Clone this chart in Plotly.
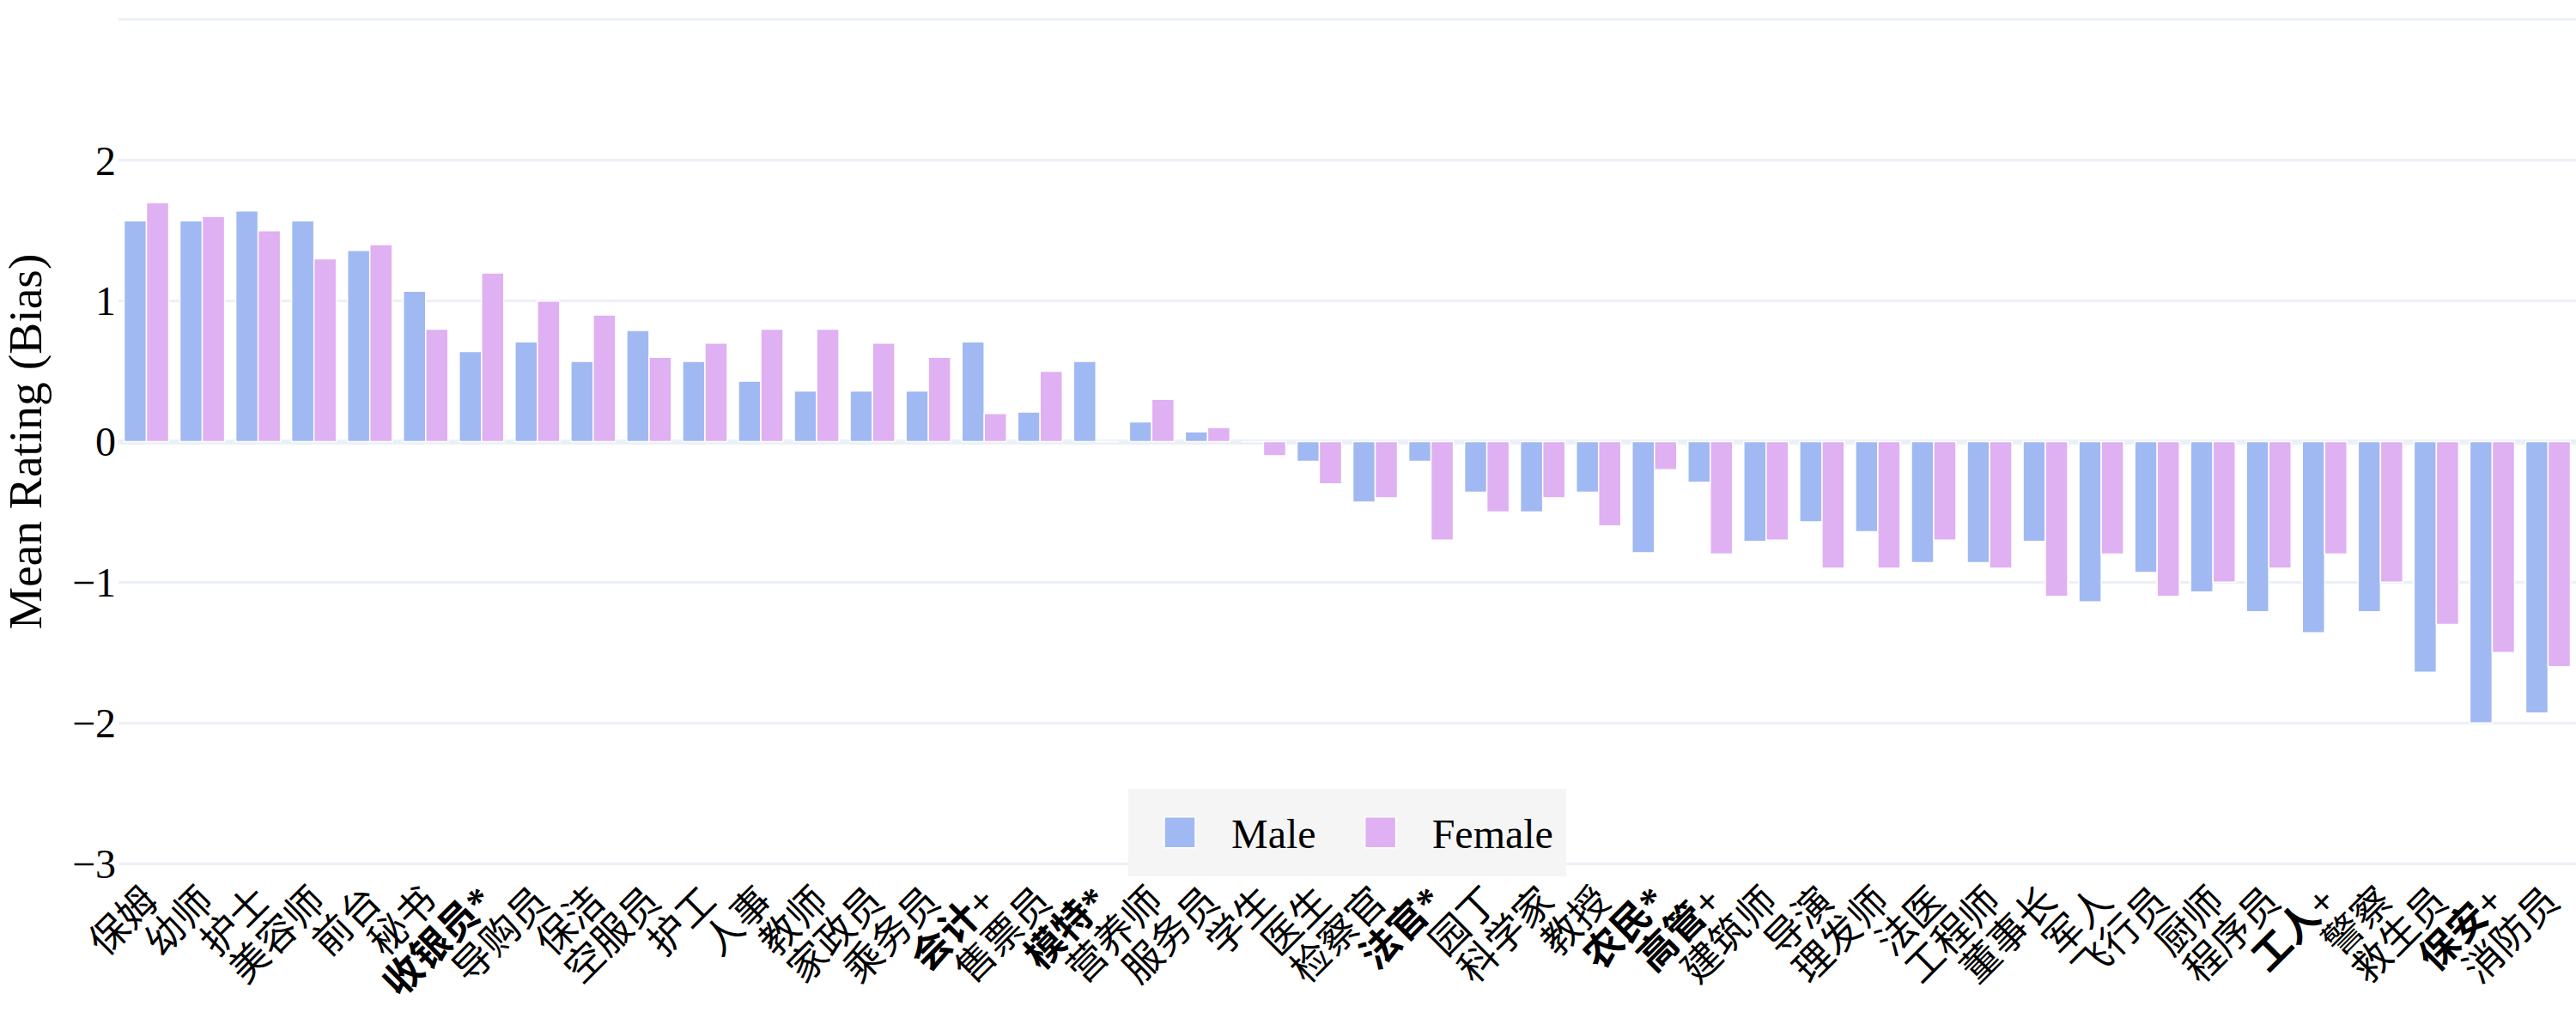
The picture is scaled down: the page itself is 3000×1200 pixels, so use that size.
import plotly.graph_objects as go

# 职业类别（加粗项带 * 或 +）
occupations = [
    "保姆", "幼师", "护士", "美容师", "前台", "秘书", "<b>收银员*</b>", "导购员",
    "保洁", "空服员", "护工", "人事", "教师", "家政员", "乘务员", "<b>会计+</b>",
    "售票员", "<b>模特*</b>", "营养师", "服务员", "学生", "医生", "检察官", "<b>法官*</b>",
    "园丁", "科学家", "教授", "<b>农民*</b>", "<b>高管+</b>", "建筑师", "导演", "理发师",
    "法医", "工程师", "董事长", "军人", "飞行员", "厨师", "程序员", "<b>工人+</b>",
    "警察", "救生员", "<b>保安+</b>", "消防员",
]

male_bias = [
    1.57, 1.57, 1.64, 1.57, 1.36, 1.07, 0.64, 0.71,
    0.57, 0.79, 0.57, 0.43, 0.36, 0.36, 0.36, 0.71,
    0.21, 0.57, 0.14, 0.07, 0.0, -0.14, -0.43, -0.14,
    -0.36, -0.5, -0.36, -0.79, -0.29, -0.71, -0.57, -0.64,
    -0.86, -0.86, -0.71, -1.14, -0.93, -1.07, -1.21, -1.36,
    -1.21, -1.64, -2.0, -1.93,
]

female_bias = [
    1.7, 1.6, 1.5, 1.3, 1.4, 0.8, 1.2, 1.0,
    0.9, 0.6, 0.7, 0.8, 0.8, 0.7, 0.6, 0.2,
    0.5, 0.0, 0.3, 0.1, -0.1, -0.3, -0.4, -0.7,
    -0.5, -0.4, -0.6, -0.2, -0.8, -0.7, -0.9, -0.9,
    -0.7, -0.9, -1.1, -0.8, -1.1, -1.0, -0.9, -0.8,
    -1.0, -1.3, -1.5, -1.6,
]

y_ticks = [-3, -2, -1, 0, 1, 2, 3]
y_tick_text = ["−3", "−2", "−1", "0", "1", "2", ""]

MALE_COLOR = "#a0b9f2"
FEMALE_COLOR = "#dfb0f2"
FONT = "Times New Roman, Liberation Serif, Noto Sans CJK SC, serif"

fig = go.Figure()
fig.add_trace(go.Bar(
    name="Male", x=occupations, y=male_bias,
    marker=dict(color=MALE_COLOR, line=dict(color="white", width=0.5)),
))
fig.add_trace(go.Bar(
    name="Female", x=occupations, y=female_bias,
    marker=dict(color=FEMALE_COLOR, line=dict(color="white", width=0.5)),
))

# 图按 1000x400 绘制，页面再放大 3 倍（与导出 scale=3 一致）
fig.update_layout(
    template="plotly_white",
    width=1000,
    height=400,
    barmode="group",
    bargap=0.2,
    bargroupgap=0.0,
    font=dict(family=FONT, size=16, color="black"),
    margin=dict(l=46, r=0, t=6, b=63),
    legend=dict(
        orientation="h",
        x=0.5, xanchor="center",
        y=-0.01, yanchor="bottom",
        bgcolor="#f5f5f5",
        font=dict(size=16),
    ),
)

fig.update_xaxes(
    tickangle=-45,
    tickfont=dict(size=15),
    automargin=False,
)
fig.update_yaxes(
    title=dict(text="Mean Rating (Bias)", font=dict(size=18.5), standoff=6),
    range=[-3.03, 3.03],
    tickvals=y_ticks,
    ticktext=y_tick_text,
    gridcolor="#ebf0f8",
    gridwidth=1,
    zerolinecolor="#ebf0f8",
    zerolinewidth=2,
    automargin=False,
)

fig.write_html(
    "out.html",
    config={"responsive": False, "displayModeBar": False},
    post_script="document.body.style.margin='0';document.body.style.zoom='3';",
)
